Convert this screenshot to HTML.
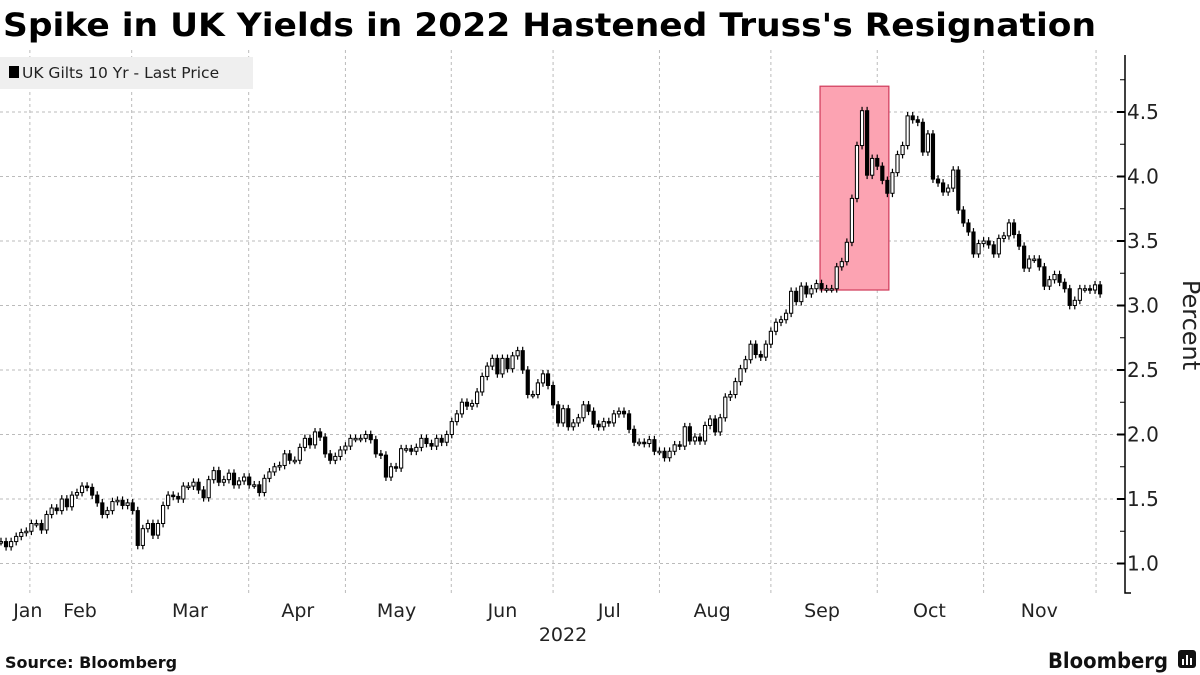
<!DOCTYPE html>
<html><head><meta charset="utf-8"><style>
html,body{margin:0;padding:0;background:#fff;}
svg{display:block;font-family:"DejaVu Sans","Liberation Sans",sans-serif;}
</style></head><body>
<svg id="chart" width="1200" height="675" viewBox="0 0 1200 675">
<text x="3" y="36" font-size="32" font-weight="bold" textLength="1093" lengthAdjust="spacingAndGlyphs">Spike in UK Yields in 2022 Hastened Truss's Resignation</text>
<g id="grid"></g>
<g id="box"></g>
<g id="candles"></g>
<g id="yaxis"></g>
<g id="xaxis"></g>
<rect x="0" y="57" width="253" height="32" fill="#efefef"/>
<rect x="9" y="66" width="10" height="12" fill="#000"/>
<text x="22" y="78" font-size="15.5" fill="#222">UK Gilts 10 Yr - Last Price</text>
<text x="1183" y="325" font-size="24" fill="#222" text-anchor="middle" transform="rotate(90 1183 325)">Percent</text>
<text x="563" y="641" font-size="19" fill="#222" text-anchor="middle">2022</text>
<text x="5" y="668" font-size="16" font-weight="bold" fill="#111">Source: Bloomberg</text>
<text x="1048" y="668" font-size="21" font-weight="bold" fill="#111" textLength="120" lengthAdjust="spacingAndGlyphs">Bloomberg</text>
<g><rect x="1178" y="650" width="18" height="18" rx="3" fill="#111"/><rect x="1182" y="659" width="2" height="6" fill="#fff"/><rect x="1186" y="655" width="2" height="10" fill="#fff"/><rect x="1190" y="658" width="2" height="7" fill="#fff"/></g>
</svg>
<script>
const closes=[1.17,1.13,1.17,1.21,1.24,1.25,1.31,1.31,1.26,1.38,1.43,1.41,1.50,1.44,1.53,1.55,1.60,1.59,1.53,1.47,1.38,1.41,1.48,1.49,1.45,1.47,1.41,1.14,1.27,1.31,1.22,1.31,1.45,1.53,1.52,1.50,1.60,1.60,1.63,1.57,1.51,1.65,1.72,1.63,1.65,1.70,1.61,1.64,1.67,1.61,1.61,1.55,1.66,1.71,1.75,1.76,1.85,1.80,1.80,1.90,1.97,1.92,2.02,1.98,1.85,1.80,1.83,1.88,1.91,1.97,1.97,1.97,2.00,1.96,1.85,1.84,1.67,1.75,1.74,1.89,1.89,1.87,1.90,
1.97,1.93,1.91,1.97,1.94,2.00,2.10,2.16,2.25,2.22,2.24,2.33,2.45,2.53,2.59,2.47,2.59,2.51,2.61,2.65,2.50,2.31,2.31,2.40,2.47,2.38,2.23,2.09,2.20,2.06,2.09,2.13,2.23,2.18,2.08,2.06,2.10,2.09,2.16,2.18,2.16,2.04,1.94,1.94,1.93,1.96,1.87,1.87,1.82,1.87,1.92,1.91,2.06,1.95,1.98,1.95,2.07,2.12,2.02,2.13,2.29,2.31,2.41,2.51,2.58,2.70,2.62,2.60,2.70,2.80,2.87,2.89,
2.94,3.11,3.03,3.15,3.09,3.13,3.17,3.13,3.13,3.13,3.30,3.34,3.49,3.83,4.24,4.51,4.01,4.14,4.08,3.97,3.87,4.03,4.17,4.24,4.47,4.44,4.42,4.19,4.33,3.98,3.95,3.88,3.91,4.05,3.74,3.64,3.57,3.40,3.48,3.50,3.47,3.40,3.52,3.54,3.64,3.55,3.46,3.29,3.36,3.36,3.30,3.15,3.20,3.24,3.18,3.13,3.00,3.04,3.13,3.13,3.12,3.16,3.09];
const yTicks=[1.0,1.5,2.0,2.5,3.0,3.5,4.0,4.5];
const yTickLabels=["1.0","1.5","2.0","2.5","3.0","3.5","4.0","4.5"];
const monthLabels=["Jan","Feb","Mar","Apr","May","Jun","Jul","Aug","Sep","Oct","Nov"];
const monthLabelIdx=[5.3,15.6,37.3,58.6,78.1,99,120.1,140.4,162.1,183.3,205];
const gridIdx=[5.7,25.8,48.9,68,88.9,109,130,152,173,194,216.2];
const boxStartIdx=162, boxEndIdx=175, boxLow=3.12, boxHigh=4.7;

const NS="http://www.w3.org/2000/svg";
const X=i=>1+i*5.065;
const Y=v=>563.5-(v-1)*129;
function mk(tag,attrs,parent){const e=document.createElementNS(NS,tag);for(const k in attrs)e.setAttribute(k,attrs[k]);parent.appendChild(e);return e;}
const grid=document.getElementById('grid'),cg=document.getElementById('candles'),ya=document.getElementById('yaxis'),xa=document.getElementById('xaxis'),bx=document.getElementById('box');
yTicks.forEach((t,k)=>{
  const l=mk('line',{x1:0,x2:1118,y1:Y(t),y2:Y(t),stroke:'#bbb','stroke-dasharray':'3,3','stroke-width':1},grid);
  
  
  const tk=mk('line',{x1:1117,x2:1125,y1:Y(t),y2:Y(t),stroke:'#000','stroke-width':2},ya);
  
  
  const tx=mk('text',{x:1127,y:Y(t)+7,'font-size':20,fill:'#222'},ya);
  tx.textContent=yTickLabels[k];
  
  
  const m=mk('line',{x1:1120,x2:1125,y1:Y(t+0.25),y2:Y(t+0.25),stroke:'#000','stroke-width':1},ya);
  
  
});
const ax=mk('polyline',{points:'1125,55 1125,593 1131,593',fill:'none',stroke:'#000','stroke-width':1.5},ya);


gridIdx.forEach(g=>{
  const l=mk('line',{x1:X(g),x2:X(g),y1:50,y2:595,stroke:'#bbb','stroke-dasharray':'3,3','stroke-width':1},grid);
  
  
});
monthLabels.forEach((m,k)=>{
  const t=mk('text',{x:X(monthLabelIdx[k]),y:617,'font-size':19,fill:'#222','text-anchor':'middle'},xa);
  t.textContent=m;
  
  
});
const r=mk('rect',{x:X(boxStartIdx)-1.5,y:Y(boxHigh),width:X(boxEndIdx)-X(boxStartIdx)+3,height:Y(boxLow)-Y(boxHigh),fill:'#fca3b2',stroke:'#cf3a5a','stroke-width':1.2},bx);


closes.forEach((c,i)=>{
  const o=i>0?closes[i-1]:c;
  const hi=Math.max(o,c)+0.03, lo=Math.min(o,c)-0.03;
  const x=X(i);
  const w=mk('line',{x1:x,x2:x,y1:Y(hi),y2:Y(lo),stroke:'#000','stroke-width':1.2},cg);
  
  
  const top=Y(Math.max(o,c)), h=Math.max(1.5,Y(Math.min(o,c))-top);
  const b=mk('rect',{x:x-1.6,y:top,width:3.2,height:h,fill:c>=o?'#fff':'#000',stroke:'#000','stroke-width':1},cg);
  
  
});
</script>
</body></html>
